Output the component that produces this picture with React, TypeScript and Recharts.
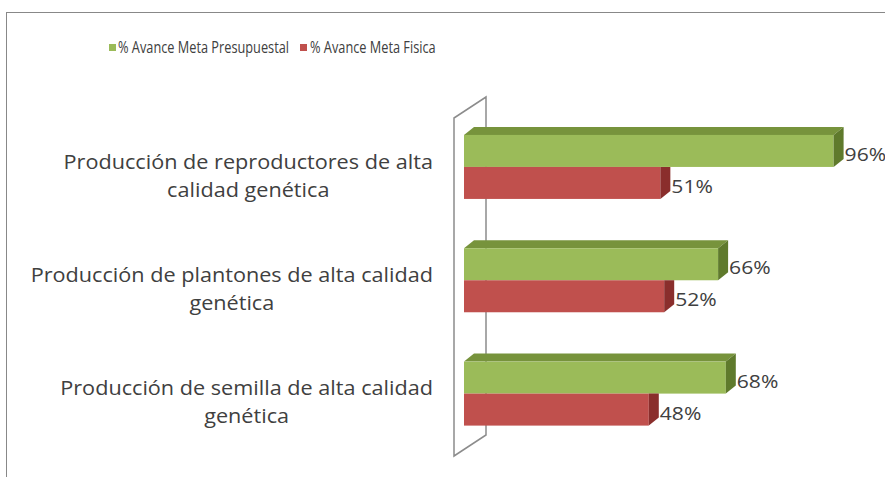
import React from 'react';
import { BarChart, Bar, XAxis, YAxis, LabelList, Customized, usePlotArea } from 'recharts';

const categoryLines: string[][] = [
  ['Producción de reproductores de alta', 'calidad genética'],
  ['Producción de plantones de alta calidad', 'genética'],
  ['Producción de semilla de alta calidad', 'genética'],
];
const presupuestal: number[] = [96, 66, 68];
const fisica: number[] = [51, 52, 48];
const seriesNames = ['% Avance Meta Presupuestal', '% Avance Meta Fisica'];

const chartData = categoryLines.map((lines, i) => ({
  name: lines.join(' '),
  presupuestal: presupuestal[i],
  fisica: fisica[i],
}));

const FONT = '"Open Sans", "Liberation Sans", sans-serif';
const TEXT = '#404040';
const DX = 10;
const DY = 8;
// the source text looks horizontally stretched
const LABEL_SIZE = 19.5;
const STRETCH = 1.11;

let ctx: CanvasRenderingContext2D | null = null;
const measure = (s: string, size: number) => {
  if (!ctx) ctx = document.createElement('canvas').getContext('2d');
  if (!ctx) return s.length * size * 0.55;
  ctx.font = `${size}px "Open Sans"`;
  return ctx.measureText(s).width;
};

const CategoryTick = (props: any) => {
  const { x, y, payload } = props;
  const lines = categoryLines[payload.index] || [payload.value];
  const widest = Math.max(...lines.map((l) => measure(l, LABEL_SIZE))) * STRETCH;
  const cx = x - 23 - widest / 2;
  return (
    <g>
      {lines.map((l, i) => (
        <text
          key={i}
          transform={`translate(${cx},${y + 2 + i * 28}) scale(${STRETCH},1)`}
          textAnchor="middle"
          fill={TEXT}
          fontSize={LABEL_SIZE}
          fontFamily={FONT}
        >
          {l}
        </text>
      ))}
    </g>
  );
};

const GreenBar = (props: any) => {
  const { x, y, width, height } = props;
  if (!width) return null;
  return (
    <g>
      <polygon points={`${x},${y} ${x + DX},${y - DY} ${x + width + DX},${y - DY} ${x + width},${y}`} fill="#77933c" />
      <rect x={x} y={y} width={width} height={height} fill="#9bbb59" />
      <polygon points={`${x + width},${y} ${x + width + DX},${y - DY} ${x + width + DX},${y + height - DY} ${x + width},${y + height}`} fill="#5f7a2c" />
    </g>
  );
};

const RedBar = (props: any) => {
  const { x, y, width, height } = props;
  if (!width) return null;
  return (
    <g>
      <rect x={x} y={y} width={width} height={height} fill="#c0504d" />
      <polygon points={`${x + width},${y} ${x + width + DX},${y} ${x + width + DX},${y + height - DY} ${x + width},${y + height}`} fill="#8a2e2c" />
    </g>
  );
};

const ValueLabel = (props: any) => {
  const { x, y, width, height, value } = props;
  return (
    <text
      transform={`translate(${x + width + DX + 1},${y + height / 2 + 10}) scale(${STRETCH},1)`}
      fill={TEXT}
      fontSize={19}
      fontFamily={FONT}
    >
      {value}%
    </text>
  );
};

const Wall = () => {
  const area = usePlotArea();
  if (!area) return null;
  const { x, y, height } = area;
  const fx = x - 10;
  const bx = x + 22;
  return (
    <polygon
      points={`${fx},${y + 8} ${bx},${y - 13} ${bx},${y + height - 15} ${fx},${y + height + 6}`}
      fill="#ffffff"
      stroke="#8c8c8c"
      strokeWidth={1.5}
    />
  );
};

const legendText: React.CSSProperties = {
  position: 'absolute',
  top: 0,
  whiteSpace: 'nowrap',
  transform: 'scaleX(0.76)',
  transformOrigin: 'left center',
  lineHeight: '20px',
};

const LegendRow = () => (
  <div style={{ position: 'absolute', left: 0, top: 37, width: 885, height: 20, fontFamily: FONT, fontSize: 16.8, color: TEXT }}>
    <span style={{ position: 'absolute', left: 109, top: 7, width: 7, height: 7, background: '#9bbb59' }} />
    <span style={{ ...legendText, left: 118 }}>{seriesNames[0]}</span>
    <span style={{ position: 'absolute', left: 300, top: 7, width: 7, height: 7, background: '#c0504d' }} />
    <span style={{ ...legendText, left: 310 }}>{seriesNames[1]}</span>
  </div>
);

export default function App() {
  return (
    <div style={{ position: 'absolute', left: 0, top: 0, width: 885, height: 477, background: '#fff', overflow: 'hidden' }}>
      <div style={{ position: 'absolute', left: 6, top: 12, width: 900, height: 500, borderLeft: '1.5px solid #888', borderTop: '1.5px solid #888' }} />
      <LegendRow />
      <BarChart
        width={885}
        height={477}
        data={chartData}
        layout="vertical"
        margin={{ top: 110, right: 36, bottom: 27, left: 0 }}
        barCategoryGap="22%"
        barGap={0}
        style={{ position: 'absolute', left: 0, top: 0 }}
      >
        <Customized component={<Wall />} />
        <XAxis type="number" domain={[0, 100]} hide />
        <YAxis type="category" dataKey="name" width={464} axisLine={false} tickLine={false} tick={<CategoryTick />} interval={0} />
        <Bar dataKey="presupuestal" name={seriesNames[0]} fill="#9bbb59" shape={<GreenBar />} isAnimationActive={false}>
          <LabelList dataKey="presupuestal" content={<ValueLabel />} />
        </Bar>
        <Bar dataKey="fisica" name={seriesNames[1]} fill="#c0504d" shape={<RedBar />} isAnimationActive={false}>
          <LabelList dataKey="fisica" content={<ValueLabel />} />
        </Bar>
      </BarChart>
    </div>
  );
}
